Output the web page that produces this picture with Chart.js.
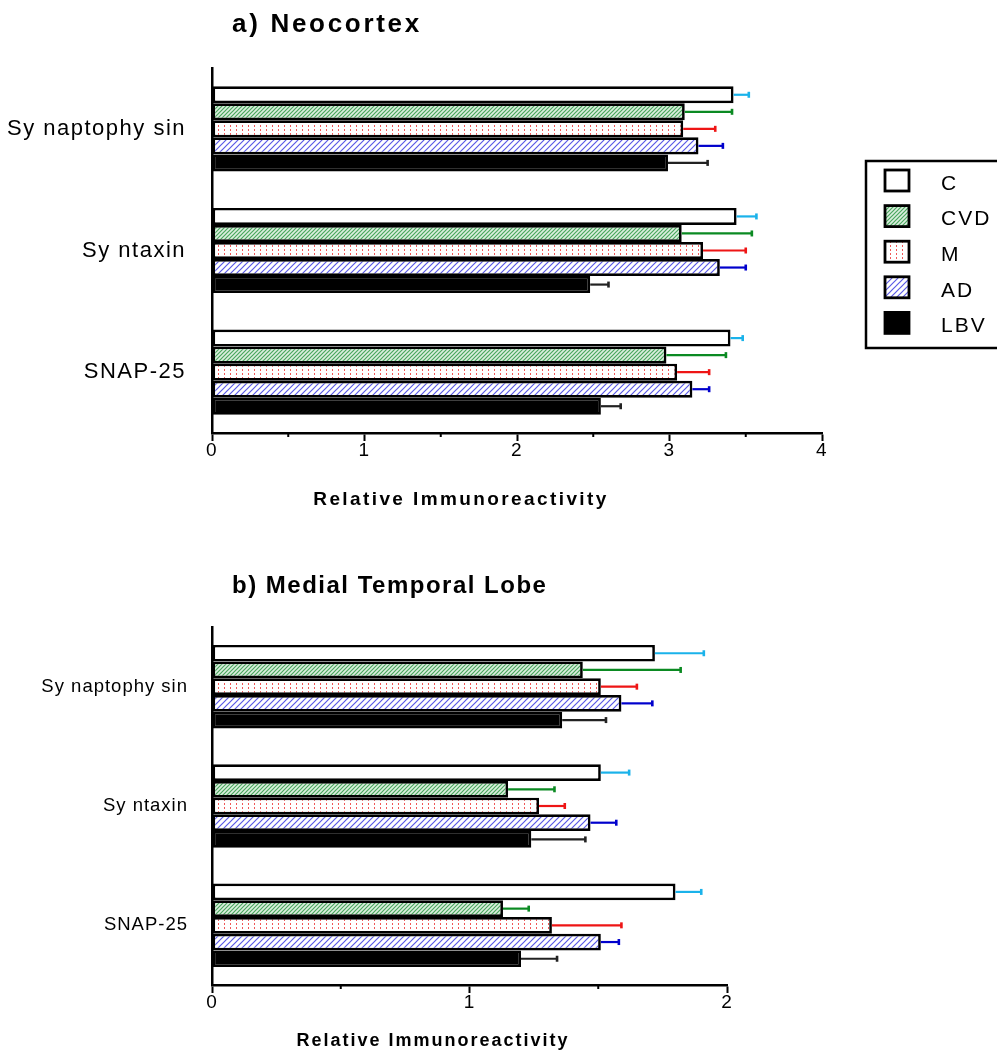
<!DOCTYPE html>
<html>
<head>
<meta charset="utf-8">
<script src="https://cdn.jsdelivr.net/npm/chart.js@4.4.0/dist/chart.umd.min.js"></script>
<style>
    body { margin: 0; background: #fff; }
    #wrap { position: relative; width: 997px; height: 1061px; overflow: hidden; }
    canvas { position: absolute; left: 0; }
</style>
</head>
<body>
<div id="wrap">
    <canvas id="neoChart" width="997" height="530" style="top:0"></canvas>
    <canvas id="mtlChart" width="997" height="531" style="top:530px"></canvas>
</div>
<script>
// Categorias y grupos
const categories = ['Sy naptophy sin', 'Sy ntaxin', 'SNAP-25'];
const groupNames = ['C', 'CVD', 'M', 'AD', 'LBV'];

// a) Neocortex - medias
const neoC   = [3.42, 3.44, 3.40];
const neoCVD = [3.10, 3.08, 2.98];
const neoM   = [3.09, 3.22, 3.05];
const neoAD  = [3.19, 3.33, 3.15];
const neoLBV = [2.99, 2.48, 2.55];
// a) Neocortex - error (+)
const neoErrC   = [0.10, 0.13, 0.08];
const neoErrCVD = [0.31, 0.46, 0.39];
const neoErrM   = [0.21, 0.28, 0.21];
const neoErrAD  = [0.16, 0.17, 0.11];
const neoErrLBV = [0.26, 0.12, 0.13];

// b) Medial Temporal Lobe - medias
const mtlC   = [1.72, 1.51, 1.80];
const mtlCVD = [1.44, 1.15, 1.13];
const mtlM   = [1.51, 1.27, 1.32];
const mtlAD  = [1.59, 1.47, 1.51];
const mtlLBV = [1.36, 1.24, 1.20];
// b) Medial Temporal Lobe - error (+)
const mtlErrC   = [0.19, 0.11, 0.10];
const mtlErrCVD = [0.38, 0.18, 0.10];
const mtlErrM   = [0.14, 0.10, 0.27];
const mtlErrAD  = [0.12, 0.10, 0.07];
const mtlErrLBV = [0.17, 0.21, 0.14];

// Ticks del eje x
const neoTicks = [0, 1, 2, 3, 4];
const mtlTicks = [0, 1, 2];

const axisTitle = 'Relative Immunoreactivity';
const errorColors = ['#1ab2ea', '#0b8a22', '#ee1515', '#0000cc', '#222222'];
const FONT = "'Liberation Sans', Arial, sans-serif";

Chart.defaults.font.family = FONT;
Chart.defaults.color = '#000';

// Tramas de relleno
function makePattern(ctx, kind) {
    const tile = document.createElement('canvas');
    const g = tile.getContext('2d');
    if (kind === 'CVD') {
        tile.width = 4; tile.height = 4;
        g.fillStyle = '#dcefdf';
        g.fillRect(0, 0, 4, 4);
        g.strokeStyle = '#4aa65e';
        g.lineWidth = 1.2;
        g.beginPath();
        g.moveTo(0, 4); g.lineTo(4, 0);
        g.moveTo(-1, 1); g.lineTo(1, -1);
        g.moveTo(3, 5); g.lineTo(5, 3);
        g.stroke();
    } else if (kind === 'M') {
        tile.width = 6; tile.height = 4;
        g.fillStyle = '#ffffff';
        g.fillRect(0, 0, 6, 4);
        g.fillStyle = '#f05858';
        g.fillRect(2, 1, 1, 2);
    } else if (kind === 'AD') {
        tile.width = 6; tile.height = 6;
        g.fillStyle = '#ffffff';
        g.fillRect(0, 0, 6, 6);
        g.strokeStyle = '#5a5ae6';
        g.lineWidth = 1.2;
        g.beginPath();
        g.moveTo(0, 6); g.lineTo(6, 0);
        g.moveTo(-1, 1); g.lineTo(1, -1);
        g.moveTo(5, 7); g.lineTo(7, 5);
        g.stroke();
    }
    return ctx.createPattern(tile, 'repeat');
}

function groupFills(ctx) {
    return ['#ffffff', makePattern(ctx, 'CVD'), makePattern(ctx, 'M'), makePattern(ctx, 'AD'), '#000000'];
}

// Barras de error (solo lado positivo)
const errorBars = {
    id: 'errorBars',
    afterDatasetsDraw(chart) {
        const ctx = chart.ctx;
        const x = chart.scales.x;
        chart.data.datasets.forEach((ds, i) => {
            const meta = chart.getDatasetMeta(i);
            meta.data.forEach((bar, j) => {
                const end = x.getPixelForValue(ds.data[j] + ds.errors[j]);
                ctx.save();
                ctx.strokeStyle = ds.errorColor;
                ctx.lineWidth = 2.2;
                ctx.beginPath();
                ctx.moveTo(bar.x, bar.y);
                ctx.lineTo(end, bar.y);
                ctx.stroke();
                ctx.lineWidth = 2.6;
                ctx.beginPath();
                ctx.moveTo(end, bar.y - 3);
                ctx.lineTo(end, bar.y + 3);
                ctx.stroke();
                ctx.restore();
            });
        });
    }
};

// Ticks menores del eje x
const minorTicks = {
    id: 'minorTicks',
    afterDraw(chart) {
        const ctx = chart.ctx;
        const x = chart.scales.x;
        ctx.save();
        ctx.strokeStyle = '#000';
        ctx.lineWidth = 2;
        for (let v = x.min + 0.5; v < x.max; v += 1) {
            const px = x.getPixelForValue(v);
            ctx.beginPath();
            ctx.moveTo(px, x.top);
            ctx.lineTo(px, x.top + 4);
            ctx.stroke();
        }
        ctx.restore();
    }
};

// Titulo del panel, titulo del eje y leyenda
const panelDeco = {
    id: 'panelDeco',
    beforeDraw(chart, args, opts) {
        chart.ctx.letterSpacing = opts.catSpacing;
    },
    afterDraw(chart, args, opts) {
        const ctx = chart.ctx;
        ctx.save();
        ctx.fillStyle = '#000';
        ctx.textBaseline = 'middle';
        ctx.textAlign = 'left';
        ctx.letterSpacing = opts.titleSpacing;
        ctx.font = 'bold ' + opts.titleSize + 'px ' + FONT;
        ctx.fillText(opts.title, opts.titleX, opts.titleY);

        ctx.textAlign = 'center';
        ctx.letterSpacing = opts.axisSpacing;
        ctx.font = 'bold ' + opts.axisSize + 'px ' + FONT;
        ctx.fillText(axisTitle, opts.axisX, opts.axisY);

        if (opts.legend) {
            const fills = groupFills(ctx);
            ctx.textAlign = 'left';
            ctx.lineWidth = 2.5;
            ctx.strokeStyle = '#000';
            ctx.strokeRect(866, 161, 200, 187);
            ctx.letterSpacing = '2px';
            ctx.font = '21px ' + FONT;
            groupNames.forEach((name, i) => {
                const cy = 180 + i * 35.6;
                ctx.fillStyle = fills[i];
                ctx.fillRect(885, cy - 10, 24, 21);
                ctx.lineWidth = 2.8;
                ctx.strokeRect(885, cy - 10, 24, 21);
                ctx.fillStyle = '#000';
                ctx.fillText(name, 941, cy + 4);
            });
        }
        ctx.restore();
        ctx.letterSpacing = '0px';
    }
};

function crearGrafica(id, values, errors, tickValues, layout) {
    const canvas = document.getElementById(id);
    const ctx = canvas.getContext('2d');
    const fills = groupFills(ctx);

    const datasets = groupNames.map((name, i) => ({
        label: name,
        data: values[i],
        errors: errors[i],
        errorColor: errorColors[i],
        backgroundColor: fills[i],
        borderColor: '#000',
        borderWidth: 2.7,
        borderSkipped: false,
        categoryPercentage: 0.7,
        barPercentage: 1.0
    }));

    return new Chart(ctx, {
        type: 'bar',
        data: { labels: categories, datasets: datasets },
        plugins: [errorBars, minorTicks, panelDeco],
        options: {
            indexAxis: 'y',
            responsive: false,
            devicePixelRatio: 1,
            animation: false,
            layout: { padding: { top: layout.top, right: layout.right, left: 0, bottom: 0 } },
            plugins: {
                legend: { display: false },
                tooltip: { enabled: false },
                panelDeco: layout.deco
            },
            scales: {
                x: {
                    min: 0,
                    max: tickValues[tickValues.length - 1],
                    afterBuildTicks: s => { s.ticks = tickValues.map(v => ({ value: v })); },
                    ticks: { color: '#000', font: { size: 19 }, padding: -2, maxRotation: 0 },
                    grid: { display: true, drawOnChartArea: false, tickLength: 8, tickWidth: 2, tickColor: '#000' },
                    border: { color: '#000', width: 2.5 },
                    afterFit: s => { s.height = layout.xHeight; }
                },
                y: {
                    grid: { display: false, drawTicks: false },
                    border: { display: true, color: '#000', width: 2.5 },
                    ticks: { color: '#000', font: { size: layout.catSize }, padding: layout.catPad },
                    afterFit: s => { s.width = 212; }
                }
            }
        }
    });
}

crearGrafica('neoChart',
    [neoC, neoCVD, neoM, neoAD, neoLBV],
    [neoErrC, neoErrCVD, neoErrM, neoErrAD, neoErrLBV],
    neoTicks,
    {
        top: 68, right: 175, xHeight: 97, catSize: 22, catPad: 26,
        deco: {
            title: 'a) Neocortex', titleX: 232, titleY: 25, titleSize: 26, titleSpacing: '2.7px',
            axisX: 461, axisY: 500, axisSize: 19, axisSpacing: '2.4px',
            catSpacing: '1.5px', legend: true
        }
    });

crearGrafica('mtlChart',
    [mtlC, mtlCVD, mtlM, mtlAD, mtlLBV],
    [mtlErrC, mtlErrCVD, mtlErrM, mtlErrAD, mtlErrLBV],
    mtlTicks,
    {
        top: 97, right: 270, xHeight: 76, catSize: 18.5, catPad: 24,
        deco: {
            title: 'b) Medial Temporal Lobe', titleX: 232, titleY: 56, titleSize: 24, titleSpacing: '1.5px',
            axisX: 433, axisY: 511, axisSize: 18, axisSpacing: '2px',
            catSpacing: '1px', legend: false
        }
    });
</script>
</body>
</html>
